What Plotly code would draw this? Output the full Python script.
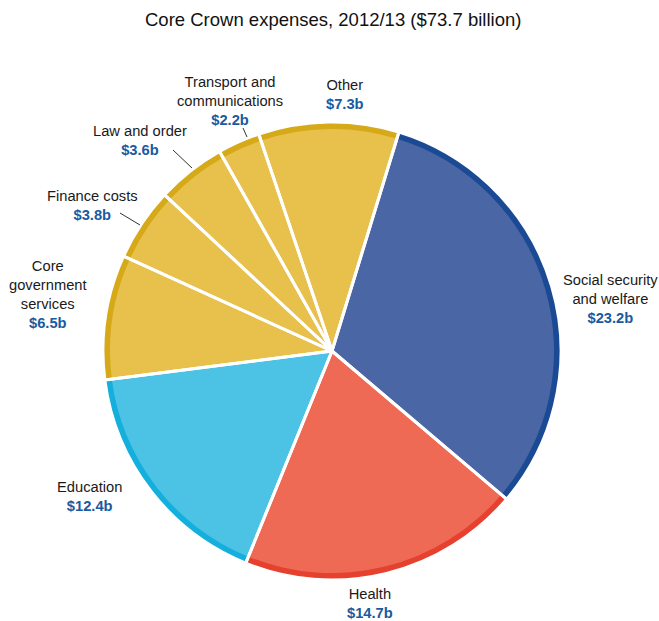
import plotly.graph_objects as go

W, H = 659, 621

# Expense categories (clockwise from the top right) and amounts in $ billion
categories = ["Social security and welfare", "Health", "Education",
              "Core government services", "Finance costs", "Law and order",
              "Transport and communications", "Other"]
values = [23.2, 14.7, 12.4, 6.5, 3.8, 3.6, 2.2, 7.3]
label_lines = [["Social security", "and welfare"], ["Health"], ["Education"],
               ["Core", "government", "services"], ["Finance costs"],
               ["Law and order"], ["Transport and", "communications"], ["Other"]]

fill_colors = ["#4b66a4", "#ee6a55", "#4cc3e5", "#e8c04c",
               "#e8c04c", "#e8c04c", "#e8c04c", "#e8c04c"]
rim_colors = ["#1b4a94", "#e6402f", "#15afdd", "#d6a919",
              "#d6a919", "#d6a919", "#d6a919", "#d6a919"]

cx, cy, R, rim = 332, 351, 229, 7


def dom(r):
    return dict(x=[(cx - r) / W, (cx + r) / W],
                y=[(H - cy - r) / H, (H - cy + r) / H])


def px(x, y):
    return x / W, 1 - y / H


common = dict(labels=categories, values=values, sort=False, direction="clockwise",
              rotation=17, textinfo="none", showlegend=False)

fig = go.Figure()
# darker outer rim
fig.add_trace(go.Pie(**common, domain=dom(R), hoverinfo="skip",
                     marker=dict(colors=rim_colors, line=dict(width=0))))
# lighter slice faces
fig.add_trace(go.Pie(**common, domain=dom(R - rim), hoverinfo="label+value",
                     marker=dict(colors=fill_colors, line=dict(width=0))))
# white separators running through face and rim
fig.add_trace(go.Pie(**common, domain=dom(R), hoverinfo="skip",
                     marker=dict(colors=["rgba(0,0,0,0)"] * len(values),
                                 line=dict(color="white", width=3))))

# label anchor points (centre of the text block, top line)
label_pos = [(610, 280), (370, 594), (90, 487), (48, 266),
             (92, 196), (140, 131), (230, 82), (345, 85)]

annotations = []
for lines, v, (x, y) in zip(label_lines, values, label_pos):
    text = "<br>".join(lines) + f"<br><b><span style='color:#1a5aa0'>${v}b</span></b>"
    ax, ay = px(x, y - 10)
    annotations.append(dict(x=ax, y=ay, xref="paper", yref="paper", text=text,
                            showarrow=False, xanchor="center", yanchor="top",
                            align="center",
                            font=dict(family="Liberation Sans, Arial", size=14.7,
                                      color="#1a1a1a")))

annotations.append(dict(x=px(333, 0)[0], y=px(0, 7)[1], xref="paper", yref="paper",
                        text="Core Crown expenses, 2012/13 ($73.7 billion)",
                        showarrow=False, xanchor="center", yanchor="top",
                        font=dict(family="Liberation Sans, Arial", size=18.5,
                                  color="#111111")))

# leader lines for the small slices
leaders = [((120, 213), (140, 225)), ((173, 150), (192, 168)), ((243, 128), (247, 137))]
shapes = []
for (x0, y0), (x1, y1) in leaders:
    p0, p1 = px(x0, y0), px(x1, y1)
    shapes.append(dict(type="line", xref="paper", yref="paper",
                       x0=p0[0], y0=p0[1], x1=p1[0], y1=p1[1],
                       line=dict(color="#333333", width=1)))

fig.update_layout(width=W, height=H, margin=dict(l=0, r=0, t=0, b=0),
                  paper_bgcolor="white", plot_bgcolor="white",
                  annotations=annotations, shapes=shapes)

fig.write_html("out.html")
